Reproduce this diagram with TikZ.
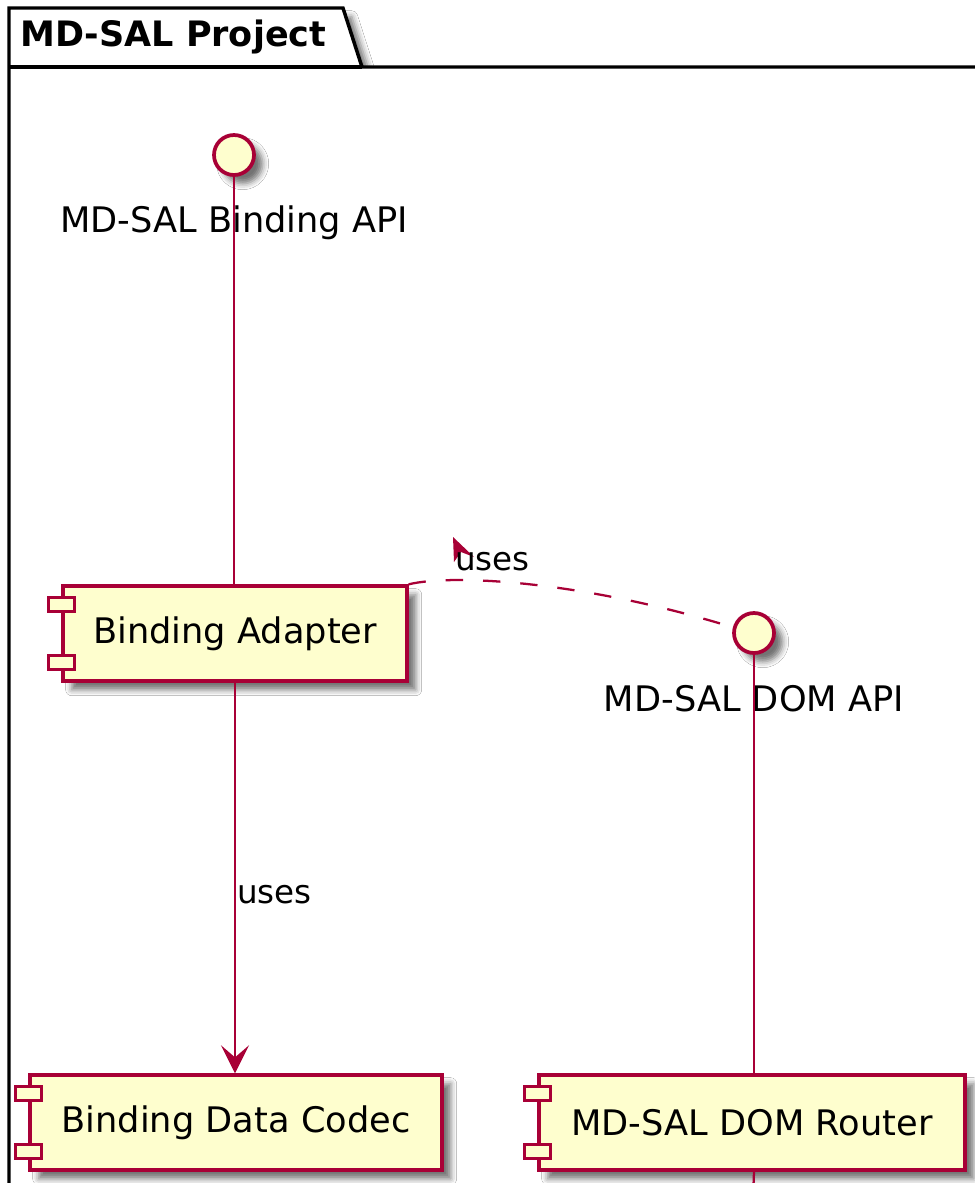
\documentclass[tikz,border=0pt]{standalone}
\usepackage{fontspec}
\setmainfont{DejaVu Sans}
\usetikzlibrary{calc,arrows.meta,shadows.blur}
\definecolor{umlfill}{HTML}{FEFECE}
\definecolor{umlline}{HTML}{A80036}
\tikzset{
  px/.style={x=0.75pt,y=-0.75pt},
  sh/.style={blur shadow={shadow xshift=6.5pt, shadow yshift=-6.5pt,
      shadow blur radius=4.5pt, shadow opacity=55}},
  nodefont/.style={font=\fontsize{26.4}{30}\selectfont},
  edgefont/.style={font=\fontsize{24.4}{28}\selectfont},
  comp/.style={draw=umlline, fill=umlfill, line width=2.5pt, sh,
      minimum height=71.25pt, inner sep=0pt, nodefont},
  port/.style={draw=umlline, fill=umlfill, line width=2.2pt},
  iface/.style={circle, draw=umlline, fill=umlfill, line width=2.8pt,
      minimum size=30pt, inner sep=0pt, sh},
  conn/.style={draw=umlline, line width=1.7pt},
  pkgline/.style={draw=black, line width=2.6pt},
}
% the two small port rectangles on the left side of a component
\newcommand{\compports}[1]{%
  \draw[port] ($(#1.north west)+(-13,13)$) rectangle ($(#1.north west)+(13,27)$);
  \draw[port] ($(#1.south west)+(-13,-27)$) rectangle ($(#1.south west)+(13,-13)$);
}
\begin{document}
\begin{tikzpicture}[px]
  \clip (0,0) rectangle (975,1183);
  \fill[white] (0,0) rectangle (975,1183);

  % package frame with its tab
  \path[pkgline, fill=white, sh] (9,1300) -- (9,8) -- (343,8) -- (362,67)
      -- (1100,67) -- (1100,1300) -- cycle;
  \draw[pkgline] (9,67) -- (362,67);
  \node[anchor=base west, inner sep=0pt, font=\fontsize{26.25}{30}\selectfont\bfseries]
      (pkgtitle) at (20,46) {MD-SAL Project};

  % interfaces
  \node[iface] (bapi) at (234,155) {};
  \node[anchor=base, inner sep=0pt, nodefont] (bapilbl) at (234,232) {MD-SAL Binding API};
  \node[iface] (domapi) at (754,633) {};
  \node[anchor=base, inner sep=0pt, nodefont] (domapilbl) at (754,711) {MD-SAL DOM API};

  % components
  \node[comp, minimum width=258pt] (adapter) at (235,633.5) {Binding Adapter};
  \compports{adapter}
  \node[comp, minimum width=309pt] (codec) at (236,1122.5) {Binding Data Codec};
  \compports{codec}
  \node[comp, minimum width=319.5pt] (router) at (752,1122.5) {MD-SAL DOM Router};
  \compports{router}
  \coordinate (routerout) at (753,1200);

  % connectors
  \draw[conn] (bapi.south) -- (bapi.south |- adapter.north);
  \draw[conn] (domapi.south) -- (domapi.south |- router.north);
  \draw[conn] (domapi.south |- router.south) -- (routerout);
  \draw[conn, -{Stealth[length=21pt, width=21pt, inset=9pt]}]
      (adapter.south) -- (adapter.south |- codec.north);
  \node[anchor=base west, inner sep=0pt, edgefont] (uses1) at (237,903) {uses};

  \draw[conn, dash pattern=on 13pt off 15pt]
      (adapter.north east) .. controls (450,574) and (580,580) .. (domapi.165);
  \coordinate (usestip) at (453,537);
  \fill[umlline] (usestip) -- ++(21,20) -- ++(-13,-5) -- ++(-7,10) -- cycle;
  \node[anchor=base west, inner sep=0pt, edgefont] (uses2) at (455,570) {uses};
\end{tikzpicture}
\end{document}
